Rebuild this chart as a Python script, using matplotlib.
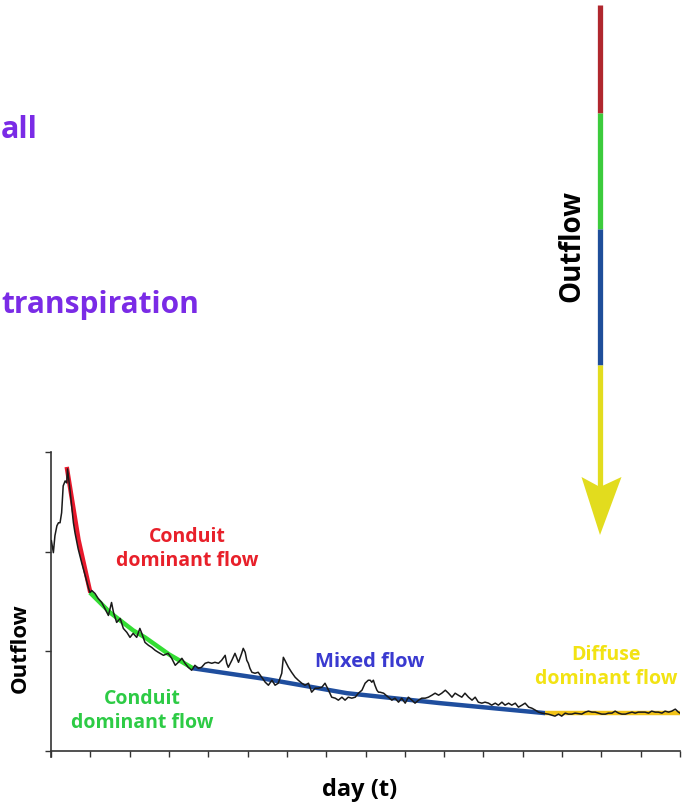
import matplotlib
matplotlib.use("Agg")
import matplotlib.pyplot as plt
from matplotlib.patches import Polygon

plt.rcParams['font.family'] = ['Open Sans', 'DejaVu Sans']

# recession hydrograph (black, noisy) - x in days, y in arbitrary outflow units
day = [0.01, 0.06, 0.10, 0.15, 0.19, 0.23, 0.27, 0.31, 0.36, 0.40, 0.42, 0.48, 0.57, 0.61,
       0.69, 0.78, 0.87, 0.95, 0.99,
       1.04, 1.12, 1.20, 1.29, 1.37, 1.46, 1.54, 1.59, 1.67, 1.76, 1.84, 1.93, 2.01, 2.09,
       2.18, 2.26, 2.31, 2.39, 2.48, 2.56, 2.65, 2.73, 2.86, 2.98, 3.07, 3.16, 3.24, 3.33,
       3.41, 3.49, 3.58, 3.66, 3.75, 3.83,
       3.92, 4.00, 4.09, 4.17, 4.26, 4.34, 4.43, 4.47, 4.51, 4.60, 4.68, 4.77, 4.85, 4.89,
       4.94, 4.98, 5.02, 5.06, 5.11, 5.19, 5.27, 5.36, 5.45, 5.53, 5.62, 5.70, 5.78, 5.87,
       5.91, 5.95, 6.04, 6.12, 6.21, 6.29, 6.38, 6.46, 6.55, 6.63, 6.72, 6.80, 6.89, 6.97,
       7.06, 7.14, 7.23, 7.31, 7.40, 7.48, 7.56, 7.65, 7.74, 7.82, 7.91, 7.99, 8.07,
       8.12, 8.16, 8.20, 8.24, 8.29, 8.33, 8.37, 8.46, 8.58, 8.67, 8.75, 8.84, 8.92, 9.01,
       9.09, 9.18, 9.26, 9.35, 9.43, 9.52, 9.60, 9.69, 9.77, 9.86, 9.94, 10.03, 10.11,
       10.20, 10.28, 10.36, 10.45, 10.53, 10.62, 10.71, 10.79, 10.87, 10.96, 11.04, 11.13,
       11.21, 11.30, 11.38, 11.47, 11.55, 11.64, 11.72, 11.81, 11.89, 11.98, 12.06, 12.15,
       12.23, 12.32, 12.40, 12.49,
       12.65, 12.74, 12.82, 12.91, 12.99, 13.08, 13.16, 13.25, 13.33, 13.50, 13.59, 13.67,
       13.76, 13.84, 13.93, 14.01, 14.10, 14.18, 14.27, 14.35, 14.44, 14.52, 14.61, 14.69,
       14.78, 14.86, 14.94, 15.03, 15.11, 15.20, 15.28, 15.37, 15.45, 15.54, 15.62, 15.71,
       15.79, 15.88, 15.96, 16.00]
outflow = [211, 199, 216, 226, 229, 229, 239, 266, 271, 269, 283, 263, 229, 219,
           203, 189, 176, 164, 159,
           161, 158, 153, 149, 143, 136, 149, 139, 129, 133, 123, 119, 114, 118,
           114, 123, 118, 109, 106, 104, 101, 99, 96, 98, 93, 86, 89, 93,
           88, 84, 81, 86, 83, 84,
           88, 89, 88, 89, 88, 91, 96, 88, 84, 91, 98, 89, 98, 103,
           99, 91, 88, 83, 79, 78, 79, 74, 69, 66, 71, 66, 68, 78,
           94, 91, 84, 79, 74, 71, 68, 66, 68, 59, 63, 63, 64, 68,
           61, 54, 53, 51, 54, 51, 54, 53, 54, 58, 61, 68, 71,
           71, 69, 71, 66, 61, 59, 59, 58, 54, 51, 53, 49, 53, 48,
           54, 51, 48, 51, 53, 53, 54, 56, 58, 56, 58, 61, 58,
           54, 58, 56, 54, 58, 54, 51, 54, 49, 48, 49, 48,
           46, 48, 46, 49, 46, 48, 46, 48, 44, 46, 48, 44,
           43, 41, 39, 38,
           37, 36, 35, 37, 35, 38, 37, 37, 38, 37, 39, 40,
           39, 39, 38, 37, 37, 38, 38, 40, 38, 37, 37, 38,
           39, 38, 39, 39, 39, 38, 40, 39, 39, 38, 40, 39,
           40, 42, 39, 38]

# fitted recession segments
red_x = [0.40, 0.70, 1.00]
red_y = [285, 212, 159]
green_x = [0.99, 1.50, 2.09, 2.39, 3.00, 3.61]
green_y = [159, 139, 121, 114, 97, 83]
blue_x = [3.61, 5.50, 7.53, 9.90, 12.57]
blue_y = [83, 72, 58, 48, 38]
yellow_x = [12.57, 16.0]
yellow_y = [38, 38]

# vertical outflow arrow segments (top -> bottom)
arrow_breaks = [5, 113, 229, 365, 488]
arrow_colors = ['#B0272E', '#3CCB3C', '#1F4E9A', '#E2DC1E']

fig = plt.figure(figsize=(6.92, 8.08), dpi=100)

ax = fig.add_axes([51/692, 57/808, 629/692, 299/808])
ax.plot(red_x, red_y, color='#E8192C', lw=3.2, solid_capstyle='butt', zorder=2)
ax.plot(green_x, green_y, color='#33DD33', lw=3.2, solid_capstyle='butt', zorder=2)
ax.plot(blue_x, blue_y, color='#1F4E9E', lw=3.2, solid_capstyle='butt', zorder=2)
ax.plot(yellow_x, yellow_y, color='#F2C318', lw=3.2, solid_capstyle='butt', zorder=2)
ax.plot(day, outflow, color='#1a1a1a', lw=1.1, zorder=3)

ax.set_xlim(0, 16)
ax.set_ylim(0, 300)
ax.set_xticks(range(17))
ax.set_yticks([0, 100, 200, 300])
ax.set_xticklabels([])
ax.set_yticklabels([])
ax.tick_params(direction='out', length=4, width=1, color='#333333')
for s in ['top', 'right']:
    ax.spines[s].set_visible(False)
for s in ['left', 'bottom']:
    ax.spines[s].set_color('#333333')
    ax.spines[s].set_linewidth(1.2)
ax.spines['left'].set_bounds(-6, 300)
ax.patch.set_visible(False)

# overlay in pixel coordinates for annotations
ov = fig.add_axes([0, 0, 1, 1])
ov.set_xlim(0, 692)
ov.set_ylim(808, 0)
ov.axis('off')

for i, c in enumerate(arrow_colors):
    ov.plot([600, 600], [arrow_breaks[i], arrow_breaks[i + 1]], color=c, lw=3.8,
            solid_capstyle='butt')
ov.add_patch(Polygon([[581.5, 477], [600, 487], [621.5, 477], [600, 535]], closed=True,
                     facecolor='#E2DC1E', edgecolor='none'))

ov.text(572, 246, 'Outflow', rotation=90, ha='center', va='center', fontsize=20,
        fontweight='bold', color='black')

purple = '#7A2BE6'
ov.text(1, 138, 'all', ha='left', va='baseline', fontsize=22, fontweight='bold',
        color=purple)
ov.text(199, 313, 'transpiration', ha='right', va='baseline', fontsize=21.5,
        fontweight='bold', color=purple)

ov.text(187, 549, 'Conduit\ndominant flow', ha='center', va='center', fontsize=14,
        fontweight='bold', color='#E8202A', linespacing=1.2)
ov.text(142, 711, 'Conduit\ndominant flow', ha='center', va='center', fontsize=14,
        fontweight='bold', color='#2DCB45', linespacing=1.2)
ov.text(370, 662, 'Mixed flow', ha='center', va='center', fontsize=14.5,
        fontweight='bold', color='#3A3AD0')
ov.text(606, 667, 'Diffuse\ndominant flow', ha='center', va='center', fontsize=14,
        fontweight='bold', color='#F2E313', linespacing=1.2)

ov.text(360, 790, 'day (t)', ha='center', va='center', fontsize=17, fontweight='bold',
        color='black')
ov.text(20, 648, 'Outflow', rotation=90, ha='center', va='center', fontsize=16,
        fontweight='bold', color='black')

fig.savefig('out.png', dpi=100)
